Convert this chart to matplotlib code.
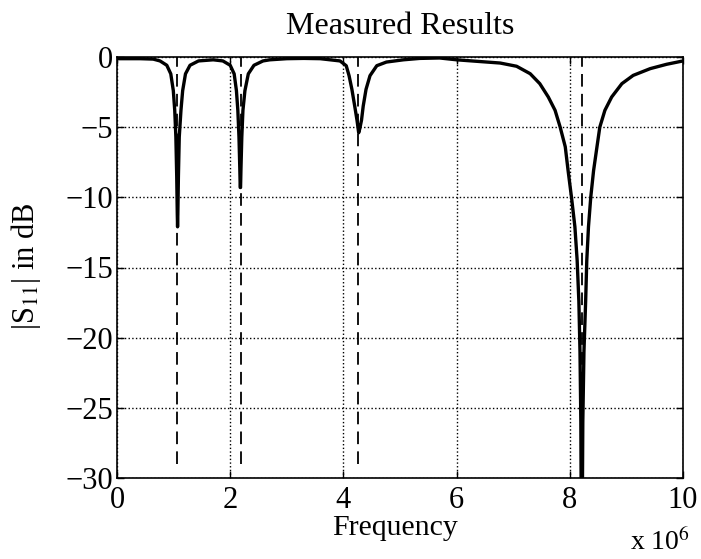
import matplotlib
matplotlib.use("Agg")
import matplotlib.pyplot as plt

plt.rcParams['font.family'] = ['Liberation Serif', 'DejaVu Serif']
plt.rcParams['mathtext.fontset'] = 'stix'

# Measured |S11| (dB) vs frequency (x 1e6)
freq = [0.00, 0.41, 0.64, 0.76, 0.88, 0.95, 0.995, 1.02, 1.04, 1.055, 1.065, 1.07,
        1.075, 1.085, 1.10, 1.13, 1.16, 1.21, 1.29, 1.44, 1.70, 1.87, 2.00, 2.07,
        2.11, 2.135, 2.155, 2.17, 2.177, 2.183, 2.19, 2.205, 2.225, 2.26, 2.32,
        2.42, 2.58, 2.70, 3.00, 3.30, 3.59, 3.94, 4.05, 4.10, 4.15, 4.20, 4.24,
        4.27, 4.29, 4.32, 4.35, 4.40, 4.47, 4.59, 4.76, 5.06, 5.35, 5.70, 6.00,
        6.40, 6.77, 7.06, 7.30, 7.47, 7.62, 7.74, 7.83, 7.92, 7.97, 8.03, 8.09,
        8.13, 8.16, 8.18, 8.195, 8.21, 8.23, 8.25, 8.28, 8.30, 8.33, 8.37, 8.42,
        8.48, 8.53, 8.62, 8.74, 8.92, 9.12, 9.42, 9.71, 10.0]
s11_db = [-0.12, -0.12, -0.15, -0.28, -0.59, -1.2, -2.4, -3.8, -5.7, -8.5, -11.2,
          -12.1, -11.2, -8.5, -5.7, -3.8, -2.4, -1.2, -0.59, -0.28, -0.20, -0.28,
          -0.59, -1.2, -2.4, -3.8, -5.7, -8.0, -9.3, -9.3, -8.0, -5.7, -3.8, -2.4,
          -1.2, -0.59, -0.28, -0.20, -0.12, -0.10, -0.12, -0.28, -0.62, -1.33,
          -2.3, -3.5, -4.5, -5.4, -5.1, -4.5, -3.5, -2.3, -1.33, -0.62, -0.36,
          -0.20, -0.10, -0.07, -0.20, -0.32, -0.43, -0.66, -1.19, -1.9, -2.85,
          -3.8, -5.0, -6.4, -8.1, -10.0, -12.1, -14.5, -17.4, -21.0, -26.0, -40.0,
          -26.0, -21.0, -17.4, -14.5, -12.1, -10.0, -8.1, -6.4, -5.0, -3.8, -2.85,
          -1.9, -1.31, -0.83, -0.52, -0.28]

# Dashed marker lines at resonance frequencies
marker_freqs = [1.06, 2.19, 4.26, 8.21]
marker_bottom = -29
marker_top = 0

xticks = [0, 2, 4, 6, 8, 10]
yticks = [-30, -25, -20, -15, -10, -5, 0]

W, H = 701, 559
fig = plt.figure(figsize=(W / 100, H / 100), dpi=100)
ax = fig.add_axes([117 / W, 1 - 478 / H, 566 / W, 421 / H])

ax.plot(freq, s11_db, color='black', linewidth=2.4, zorder=3,
        solid_joinstyle='round', solid_capstyle='round')
ax.vlines(marker_freqs, marker_bottom, marker_top, colors='black',
          linestyles=(0, (7, 4)), linewidth=1.3, zorder=2)

ax.set_xlim(0, 10)
ax.set_ylim(-30, 0)
ax.set_xticks(xticks)
ax.set_yticks(yticks)
ax.set_xticklabels([str(t) for t in xticks])
ax.set_yticklabels([('\u2212' + str(-t)) if t < 0 else str(t) for t in yticks])
ax.grid(True, linestyle=':', color='black', linewidth=1.0)
ax.tick_params(direction='in', length=5, width=1, top=True, right=True,
               labelsize=22)
ax.tick_params(axis='x', pad=6)
ax.tick_params(axis='y', pad=3)
for sp in ax.spines.values():
    sp.set_linewidth(1.2)

fig.text(400 / W, 1 - 34 / H, 'Measured Results', fontsize=23,
         ha='center', va='baseline')
fig.text(395 / W, 1 - 535 / H, 'Frequency', fontsize=21.5,
         ha='center', va='baseline')
fig.text(26 / W, 1 - 266 / H, '|S$_{11}$| in dB', fontsize=22,
         ha='center', va='center', rotation=90)
fig.text(690 / W, 1 - 550 / H, 'x 10$^{6}$', fontsize=20,
         ha='right', va='baseline')

fig.savefig('out.png', dpi=100)
